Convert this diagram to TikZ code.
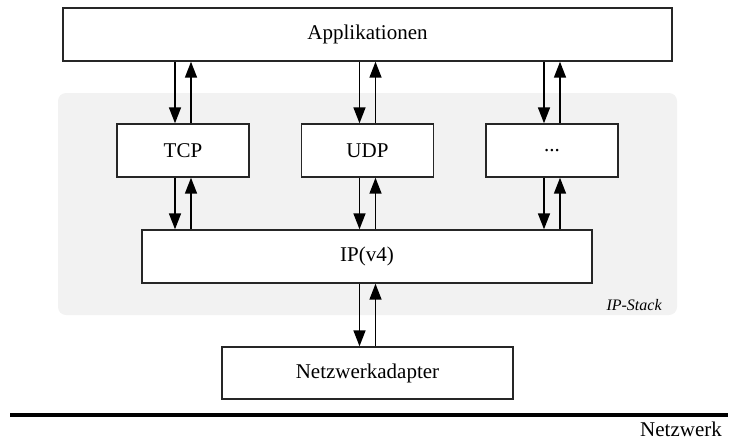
\documentclass[tikz,border=0pt]{standalone}
\usepackage{fontspec}
\setmainfont{Liberation Serif}
\usetikzlibrary{arrows.meta,positioning,calc}

\begin{document}
\begin{tikzpicture}[x=0.5pt,y=-0.5pt,
  box/.style={draw=black!85, line width=0.7pt, fill=white, inner sep=0pt, font=\fontsize{10.5}{12}\selectfont},
  flow/.style={-{Triangle[length=8pt,width=6pt]}, line width=0.8pt}]

 \useasboundingbox (0,0) rectangle (739,446);

 % IP-Stack background
 \fill[black!5, rounded corners=4pt] (58,93) rectangle (677,315);
 \node[font=\fontsize{8}{9}\selectfont\itshape, anchor=east, inner sep=0pt] (stack) at (662,305) {IP-Stack};

 \node[box, minimum width=304.5pt, minimum height=26.5pt] (app) at (367.5,34.5) {Applikationen};

 \foreach \i/\name/\txt in { 0/tcp/TCP, 1/udp/UDP } {
         \node[box, minimum width=66pt, minimum height=26.5pt] (\name) at (\i*184.5+183, 150.5) {\txt};
 }
 \node[box, minimum width=66pt, minimum height=26.5pt] (more) at (552, 150.5) {...};

 \node[box, minimum width=225pt, minimum height=26.5pt] (ip) at (367, 256.5) {IP(v4)};
 \node[box, minimum width=145.5pt, minimum height=26pt] (nic) at (367.5, 373) {Netzwerkadapter};

 % arrows
 \foreach \name in {tcp,udp,more} {
         \draw[flow] ([xshift=-4pt]\name.north |- app.south) -- ([xshift=-4pt]\name.north);
         \draw[flow] ([xshift=4pt]\name.north) -- ([xshift=4pt]\name.north |- app.south);
         \draw[flow] ([xshift=-4pt]\name.south) -- ([xshift=-4pt]\name.south |- ip.north);
         \draw[flow] ([xshift=4pt]\name.south |- ip.north) -- ([xshift=4pt]\name.south);
 }
 \draw[flow] ([xshift=-4pt]nic.north |- ip.south) -- ([xshift=-4pt]nic.north);
 \draw[flow] ([xshift=4pt]nic.north) -- ([xshift=4pt]nic.north |- ip.south);

 % network
 \coordinate (netL) at (10,415);
 \coordinate (netR) at (728,415);
 \draw[line width=2pt] (netL) -- (netR);
 \node[font=\fontsize{10.5}{12}\selectfont] (net) at (681,429) {Netzwerk};

\end{tikzpicture}
\end{document}
